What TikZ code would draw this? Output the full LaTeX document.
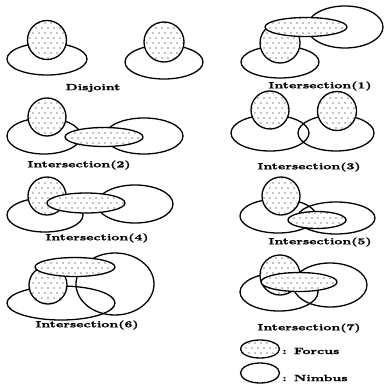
\documentclass[tikz,border=0pt]{standalone}
\usepackage{fontspec}
\newfontfamily\lblfont{Latin Modern Roman}[BoldFeatures={FakeBold=1.2}]
\usetikzlibrary{shapes.geometric,patterns}
\pgfdeclarepatternformonly{sparsedots}{\pgfqpoint{-1pt}{-1pt}}{\pgfqpoint{5pt}{9pt}}{\pgfqpoint{6pt}{10pt}}{%
  \pgfpathcircle{\pgfqpoint{0pt}{0pt}}{0.7pt}%
  \pgfpathcircle{\pgfqpoint{3pt}{5pt}}{0.7pt}%
  \pgfusepath{fill}}
\tikzset{
  nimbus/.style={ellipse, draw, line width=1.3pt, inner sep=0pt, outer sep=0pt},
  focusell/.style={ellipse, draw, line width=1.3pt, inner sep=0pt, outer sep=0pt, fill=white, postaction={pattern=sparsedots}},
  focuscirc/.style={circle, draw, line width=1.3pt, inner sep=0pt, outer sep=0pt, fill=white, postaction={pattern=sparsedots}},
  lbl/.style={font=\lblfont\fontsize{9}{10}\selectfont\bfseries, xscale=1.5, inner sep=0pt}
}
\begin{document}
\begin{tikzpicture}[x=1pt,y=-1pt]
\useasboundingbox (0,0) rectangle (386,388);
% Disjoint
\node[nimbus, minimum width=80pt, minimum height=32pt] (d1n) at (47,59) {};
\node[focuscirc, minimum size=39pt] (d1f) at (47,40) {};
\node[nimbus, minimum width=78pt, minimum height=34pt] (d2n) at (164,62) {};
\node[focuscirc, minimum size=40pt] (d2f) at (164,42) {};
\node[lbl] (dl) at (93,88) {Disjoint};
% Intersection(1)
\node[nimbus, minimum width=78pt, minimum height=32pt] (a1n1) at (280,62) {};
\node[nimbus, minimum width=76pt, minimum height=42pt] (a1n2) at (345,27) {};
\node[focuscirc, minimum size=40pt] (a1c) at (280,43) {};
\node[focusell, minimum width=82pt, minimum height=19pt] (a1e) at (306,27) {};
\node[lbl] (a1l) at (320,86) {Intersection(1)};
% Intersection(2)
\node[nimbus, minimum width=74pt, minimum height=36pt] (a2n1) at (44,136) {};
\node[nimbus, minimum width=78pt, minimum height=36pt] (a2n2) at (144,136) {};
\node[focuscirc, minimum size=38pt] (a2c) at (47,117) {};
\node[focusell, minimum width=78pt, minimum height=19pt] (a2e) at (104,137) {};
\node[lbl] (a2l) at (79,165) {Intersection(2)};
% Intersection(3)
\node[nimbus, minimum width=78pt, minimum height=36pt] (a3n1) at (270,133) {};
\node[nimbus, minimum width=76pt, minimum height=36pt] (a3n2) at (336,133) {};
\node[focuscirc, minimum size=38pt] (a3c1) at (270,110) {};
\node[focuscirc, minimum size=39pt] (a3c2) at (337,111) {};
\node[lbl] (a3l) at (309,167) {Intersection(3)};
% Intersection(4)
\node[nimbus, minimum width=76pt, minimum height=34pt] (a4n1) at (45,215) {};
\node[nimbus, minimum width=76pt, minimum height=38pt] (a4n2) at (135,204) {};
\node[focuscirc, minimum size=38pt] (a4c) at (47,196) {};
\node[focusell, minimum width=78pt, minimum height=20pt] (a4e) at (86,203) {};
\node[lbl] (a4l) at (97,238) {Intersection(4)};
% Intersection(5)
\node[nimbus, minimum width=76pt, minimum height=34pt] (a5n1) at (278,216) {};
\node[nimbus, minimum width=78pt, minimum height=32pt] (a5n2) at (336,218) {};
\node[focuscirc, minimum size=38pt] (a5c) at (281,196) {};
\node[focusell, minimum width=58pt, minimum height=17pt] (a5e) at (317,220) {};
\node[lbl] (a5l) at (320,242) {Intersection(5)};
% Intersection(6)
\node[nimbus, minimum width=108pt, minimum height=34pt] (a6n1) at (61,303) {};
\node[nimbus, minimum width=78pt, minimum height=62pt] (a6n2) at (115,284) {};
\node[focuscirc, minimum size=38pt] (a6c) at (48,285) {};
\node[focusell, minimum width=80pt, minimum height=19pt] (a6e) at (75,267) {};
\node[lbl] (a6l) at (87,325) {Intersection(6)};
% Intersection(7)
\node[nimbus, minimum width=78pt, minimum height=38pt] (a7n1) at (279,292) {};
\node[nimbus, minimum width=74pt, minimum height=44pt] (a7n2) at (330,285) {};
\node[focuscirc, minimum size=40pt] (a7c) at (280,275) {};
\node[focusell, minimum width=76pt, minimum height=19pt] (a7e) at (299,282) {};
\node[lbl] (a7l) at (309,328) {Intersection(7)};
% Legend
\node[focusell, minimum width=39pt, minimum height=18pt] (lf) at (260,349) {};
\node[lbl, anchor=west] (lft) at (282,351) {: Forcus};
\node[nimbus, minimum width=39pt, minimum height=20pt] (ln) at (260,373) {};
\node[lbl, anchor=west] (lnt) at (282,378) {: Nimbus};
\end{tikzpicture}
\end{document}
